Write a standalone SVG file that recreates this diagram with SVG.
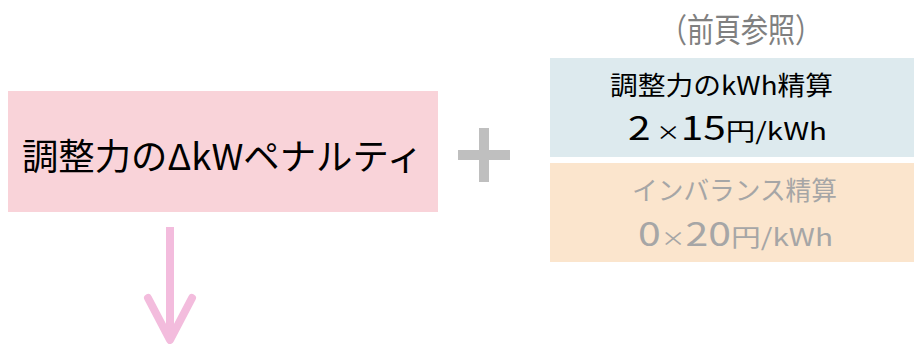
<svg xmlns="http://www.w3.org/2000/svg" width="914" height="344" viewBox="0 0 914 344">
<style>
text{font-family:"Noto Sans CJK JP","Noto Sans",sans-serif;}
.dark{fill:#000;}
.gray{fill:#a6a6a6;}
</style>
<rect width="914" height="344" fill="#fff"/>
<g id="dkw">
<rect x="8" y="91" width="430" height="121" fill="#f9d3d9"/>
<text x="22" y="170" font-size="36" class="dark" textLength="401" lengthAdjust="spacingAndGlyphs">調整力のΔkWペナルティ</text>
</g>
<g id="plus">
<rect x="458" y="150" width="52" height="10" fill="#bfbfbf"/>
<rect x="479" y="128" width="10" height="54" fill="#bfbfbf"/>
</g>
<g id="note">
<text x="660" y="42" font-size="33" fill="#808080" textLength="162" lengthAdjust="spacingAndGlyphs">（前頁参照）</text>
</g>
<g id="kwh">
<rect x="550" y="58" width="364" height="99" fill="#ddeaee"/>
<text x="610" y="95" font-size="26" class="dark" textLength="223" lengthAdjust="spacingAndGlyphs">調整力のkWh精算</text>
<text x="628" y="140" class="dark" textLength="199" lengthAdjust="spacingAndGlyphs"><tspan font-size="33">2</tspan><tspan font-size="20"> ×</tspan><tspan font-size="33">15</tspan><tspan font-size="24">円/kWh</tspan></text>
</g>
<g id="imb">
<rect x="550" y="163" width="364" height="99" fill="#fbe5cd"/>
<text x="632" y="200" font-size="26" class="gray" textLength="205" lengthAdjust="spacingAndGlyphs">インバランス精算</text>
<text x="638" y="246" class="gray" textLength="195" lengthAdjust="spacingAndGlyphs"><tspan font-size="33">0</tspan><tspan font-size="20">×</tspan><tspan font-size="33">20</tspan><tspan font-size="24">円/kWh</tspan></text>
</g>
<g id="connectors">
<path d="M170 227 V340" stroke="#f3bcdd" stroke-width="8" fill="none"/>
<path d="M148 298 L170 340 L192 298" stroke="#f3bcdd" stroke-width="8" fill="none" stroke-linecap="round" stroke-linejoin="round"/>
</g>
</svg>
